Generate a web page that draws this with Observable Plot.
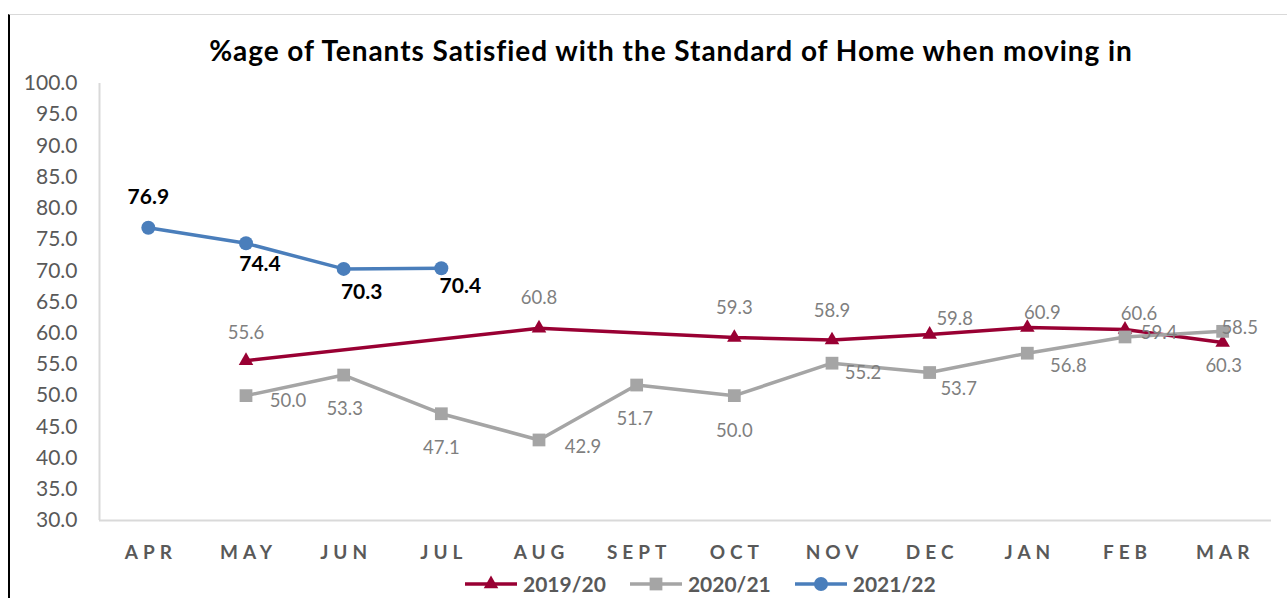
<!DOCTYPE html>
<html><head><meta charset="utf-8">
<script src="https://cdn.jsdelivr.net/npm/d3@7"></script>
<script src="https://cdn.jsdelivr.net/npm/@observablehq/plot@0.6"></script>
<style>
html,body{margin:0;padding:0;background:#fff;}
body{width:1287px;height:598px;position:relative;overflow:hidden;font-family:Lato,"Open Sans",sans-serif;}
#frame{position:absolute;left:8px;top:14px;right:0;bottom:-2px;border-left:2px solid #000;border-top:1px solid #d9d9d9;}
#title{position:absolute;left:0;width:1342px;top:33px;text-align:center;font-weight:700;font-size:28px;letter-spacing:0.95px;color:#000;white-space:nowrap;}
#chart{position:absolute;left:0;top:70px;}
#legend{position:absolute;left:465px;top:572px;height:24px;line-height:24px;display:flex;align-items:center;font-weight:700;font-size:21px;color:#595959;}
.item{display:flex;align-items:center;margin-right:24px;}
.item svg{margin-right:6px;}
</style></head><body>
<div id="frame"></div>
<div id="title">%age of Tenants Satisfied with the Standard of Home when moving in</div>
<div id="chart"></div>
<div id="legend"></div>
<script>
// ---- data ----
const months = ["APR","MAY","JUN","JUL","AUG","SEPT","OCT","NOV","DEC","JAN","FEB","MAR"];
const seriesNames = ["2019/20","2020/21","2021/22"];
const v2019 = [null,55.6,null,null,60.8,null,59.3,58.9,59.8,60.9,60.6,58.5];
const v2020 = [null,50.0,53.3,47.1,42.9,51.7,50.0,55.2,53.7,56.8,59.4,60.3];
const v2021 = [76.9,74.4,70.3,70.4,null,null,null,null,null,null,null,null];
const yTicks = d3.range(30, 100.1, 5);

// ---- style: label offsets (dx, dy) relative to each point ----
const off2019 = [null,[0,-28],null,null,[0,-30],null,[0,-30],[0,-29],[25,-15],[15,-15],[14,-15],[17,-15]];
const off2020 = [null,[42,5],[1,34],[0,34],[44,7],[-2,34],[0,35],[31,10],[29,17],[41,13],[34,-4],[1,35]];
const off2021 = [[0,-30],[14,21],[18,23],[19,18],null,null,null,null,null,null,null,null];

const colors = ["#990033","#a5a5a5","#4a7ebb"];
const symbols = ["triangle","square","circle"];
const radii = [5.4,7.2,7];
const seriesVals = [v2019, v2020, v2021];
const seriesOffs = [off2019, off2020, off2021];

const marks = [
  Plot.ruleY([30], {stroke:"#d9d9d9", strokeWidth:2}),
  Plot.ruleX([-0.5], {stroke:"#d9d9d9", strokeWidth:2}),
  Plot.axisY(yTicks, {tickSize:0, tickPadding:22, tickFormat:d3.format(".1f"), fontSize:21, color:"#595959", label:null}),
  Plot.axisX(d3.range(months.length), {tickSize:0, tickPadding:25, tickFormat:i=>months[i], fontSize:19, fontWeight:"bold", color:"#595959", label:null})
];

seriesVals.forEach((vals, s) => {
  const idx = d3.range(months.length).filter(i => vals[i] != null);
  marks.push(Plot.line(idx, {x:i=>i, y:i=>vals[i], stroke:colors[s], strokeWidth:3.5}));
  marks.push(Plot.dot(idx, {x:i=>i, y:i=>vals[i], symbol:symbols[s], r:radii[s], fill:colors[s], stroke:"none"}));
});
seriesVals.forEach((vals, s) => {
  d3.range(months.length).filter(i => vals[i] != null).forEach(i => {
    const o = seriesOffs[s][i];
    marks.push(Plot.text([i], {
      x:d=>d, y:d=>vals[d], text:d=>vals[d].toFixed(1),
      dx:o[0], dy:o[1], textAnchor:"middle", lineAnchor:"middle",
      fontSize: s===2 ? 21 : 18.5,
      fontWeight: s===2 ? "bold" : "normal",
      fill: s===2 ? "#000" : "#7f7f7f"
    }));
  });
});

const chart = Plot.plot({
  width:1287, height:500,
  marginTop:13, marginBottom:50, marginLeft:99, marginRight:16,
  style:{fontFamily:"Lato, 'Open Sans', sans-serif", background:"transparent", overflow:"visible"},
  x:{type:"linear", domain:[-0.5, months.length-0.5], axis:null},
  y:{domain:[30,100], axis:null},
  marks
});
d3.select(chart).selectAll('g[aria-label="x-axis tick label"] text')
  .style("letter-spacing","5px").attr("dx","2.5");
document.getElementById("chart").appendChild(chart);

// ---- legend ----
const legend = d3.select("#legend");
seriesNames.forEach((name, s) => {
  const item = legend.append("div").attr("class","item");
  const sv = item.append("svg").attr("width",52).attr("height",18);
  sv.append("line").attr("x1",0).attr("x2",52).attr("y1",9).attr("y2",9)
    .attr("stroke",colors[s]).attr("stroke-width",3.5);
  const type = s===0 ? d3.symbolTriangle : s===1 ? d3.symbolSquare : d3.symbolCircle;
  sv.append("path").attr("transform","translate(26,9)")
    .attr("d", d3.symbol().type(type).size(Math.PI*radii[s]*radii[s])())
    .attr("fill",colors[s]);
  item.append("span").text(name);
});
</script>
</body></html>
